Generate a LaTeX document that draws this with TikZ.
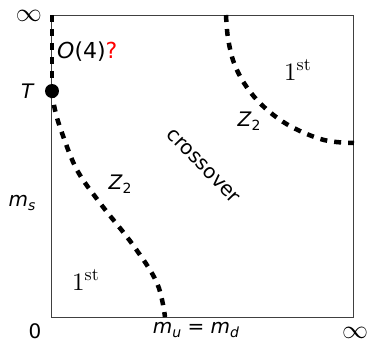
\RequirePackage{fix-cm}
\documentclass[tikz,border=0pt]{standalone}
\usepackage{fontspec}
\newfontfamily\dv{DejaVu Sans}
\newfontfamily\lmr{lmroman10-regular.otf}
\newcommand{\sub}[1]{\raisebox{-0.35ex}{\fontsize{14}{16}\selectfont #1}}
\newcommand{\sups}[1]{\raisebox{10pt}{\fontsize{18}{20}\selectfont #1}}
\begin{document}
\begin{tikzpicture}[x=1pt,y=-1pt,
  lbl/.style={inner sep=0pt,font=\dv\fontsize{20}{24}\selectfont},
  ser/.style={inner sep=0pt,anchor=base west,font=\lmr\fontsize{25}{28}\selectfont},
  inf/.style={inner sep=0pt,font=\fontsize{26}{30}\selectfont},
  bnd/.style={line width=4.5pt,dash pattern=on 7pt off 7pt,black},
  frame/.style={line width=1pt,black!75}]
\useasboundingbox (0,0) rectangle (368,341);
\coordinate (tl) at (52,15);
\coordinate (br) at (354,317);
\coordinate (tr) at (354,15);
\coordinate (bl) at (52,317);
\draw[frame] (bl) rectangle (tr);
\node[circle,fill=black,inner sep=0pt,minimum size=14pt] (T) at (52,91) {};
\draw[bnd] (tl) -- (T.center);
\draw[bnd] plot[smooth,tension=0.6] coordinates {(52,91) (55,110) (62,133) (77,170) (100,203) (133,245) (157,283) (165,317)};
\draw[bnd] plot[smooth,tension=0.6] coordinates {(226,15) (228,38) (234,63) (246,86) (264,107) (290,126) (324,140) (354,143)};
\node[inf] (inftop) at (29,16) {$\infty$};
\node[lbl,anchor=west,font=\dv\fontsize{22}{26}\selectfont] (o4) at (57,52) {\textit{O}(4)\textcolor{red}{?}};
\node[lbl] (Tl) at (28,91) {\textit{T}};
\node[ser] (fst1) at (284,80) {1\sups{st}};
\node[lbl] (z2a) at (249,121) {\textit{Z}\sub{2}};
\node[lbl,rotate=-46] (cross) at (203,166) {crossover};
\node[lbl] (z2b) at (120,184) {\textit{Z}\sub{2}};
\node[lbl] (ms) at (22,203) {\textit{m}\sub{\textit{s}}};
\node[ser] (fst2) at (72,290) {1\sups{st}};
\node[lbl] (zero) at (35,331) {0};
\node[lbl] (mumd) at (196,330) {\textit{m}\sub{\textit{u}} = \textit{m}\sub{\textit{d}}};
\node[inf] (infr) at (355,333) {$\infty$};
\end{tikzpicture}
\end{document}
